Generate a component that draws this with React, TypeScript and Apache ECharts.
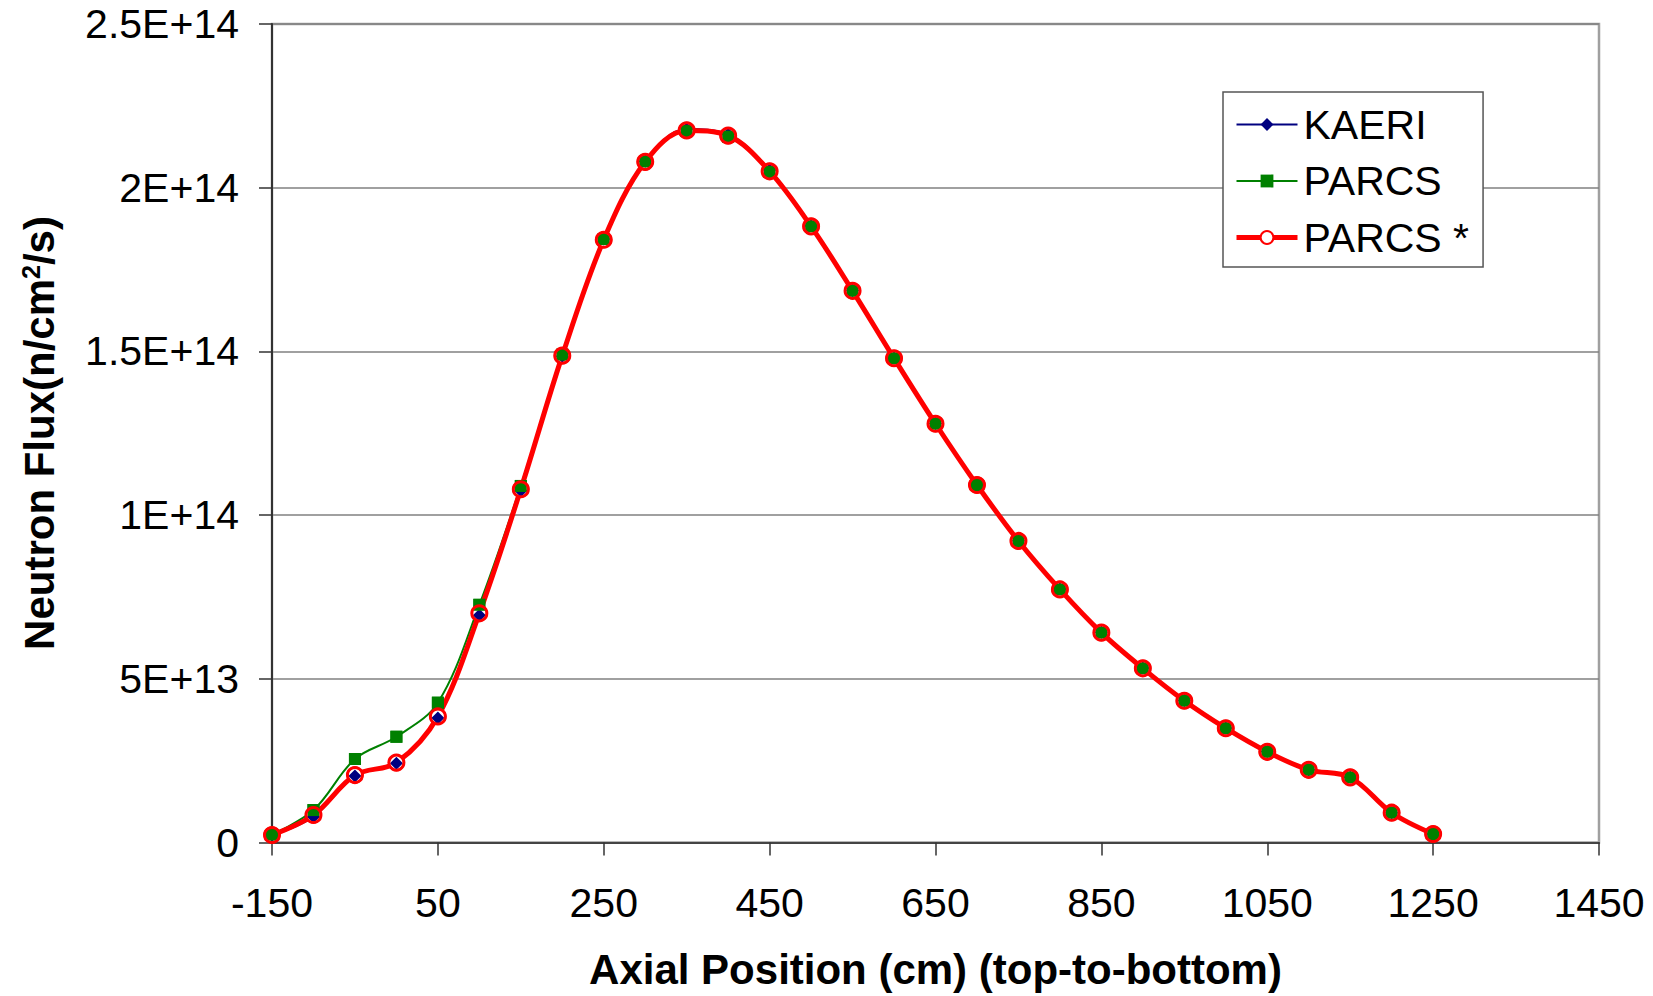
import React, { useEffect, useRef } from "react";
import * as echarts from "echarts";

const xPositions = [
  -150, -100, -50, 0, 50, 100, 150, 200, 250, 300, 350, 400, 450, 500, 550,
  600, 650, 700, 750, 800, 850, 900, 950, 1000, 1050, 1100, 1150, 1200, 1250,
];

const kaeri = [
  2.2e12, 7.9e12, 20.3e12, 24.2e12, 38.0e12, 69.4e12, 107.4e12, 148.5e12,
  184.3e12, 208.1e12, 217.9e12, 216.3e12, 205.4e12, 188.4e12, 168.6e12,
  148.0e12, 128.0e12, 109.3e12, 92.2e12, 77.4e12, 64.2e12, 53.3e12, 43.4e12,
  35.0e12, 27.8e12, 22.2e12, 19.9e12, 9.1e12, 2.6e12,
];

const parcs = [
  2.4e12, 9.9e12, 25.5e12, 32.3e12, 42.7e12, 72.6e12, 108.9e12, 149.0e12,
  184.3e12, 208.0e12, 217.3e12, 215.6e12, 204.8e12, 188.2e12, 168.5e12,
  147.9e12, 127.9e12, 109.2e12, 92.1e12, 77.3e12, 64.1e12, 53.2e12, 43.3e12,
  34.9e12, 27.7e12, 22.2e12, 19.9e12, 9.1e12, 2.6e12,
];

const parcsStar = [
  2.3e12, 8.4e12, 20.6e12, 24.4e12, 38.5e12, 70.0e12, 107.9e12, 148.7e12,
  184.1e12, 207.9e12, 217.5e12, 215.9e12, 205.0e12, 188.2e12, 168.5e12,
  147.9e12, 127.9e12, 109.2e12, 92.1e12, 77.3e12, 64.1e12, 53.2e12, 43.3e12,
  34.9e12, 27.7e12, 22.2e12, 19.9e12, 9.1e12, 2.6e12,
];

const xTicks = [-150, 50, 250, 450, 650, 850, 1050, 1250, 1450];
const yTickLabels = ["0", "5E+13", "1E+14", "1.5E+14", "2E+14", "2.5E+14"];

const seriesNames = ["KAERI", "PARCS", "PARCS *"];
const yTitle = "{a|Neutron Flux(n/cm}{sup|2}{a|/s)}";

const FONT = "'Liberation Sans', Arial, Helvetica, sans-serif";

export default function App() {
  const ref = useRef<HTMLDivElement>(null);

  useEffect(() => {
    if (!ref.current) return;
    const chart = echarts.init(ref.current, null, { renderer: "svg" });
    const pair = (ys: number[]) => xPositions.map((x, i) => [x, ys[i]]);

    const navy = "#000080";
    const green = "#008000";
    const red = "#ff0000";

    chart.setOption({
      animation: false,
      backgroundColor: "#ffffff",
      textStyle: { fontFamily: FONT },
      grid: {
        left: 272,
        top: 24,
        width: 1327,
        height: 818.5,
        show: true,
        outerBoundsMode: "none",
        containLabel: false,
        borderColor: "#a0a0a0",
        borderWidth: 2.5,
        backgroundColor: "transparent",
      },
      graphic: [
        {
          type: "text",
          x: 39,
          y: 433,
          rotation: Math.PI / 2,
          silent: true,
          style: {
            text: yTitle,
            align: "center",
            verticalAlign: "middle",
            fill: "#000000",
            fontFamily: FONT,
            fontSize: 42,
            fontWeight: "bold",
            rich: {
              a: {
                fontFamily: FONT,
                fontSize: 42,
                fontWeight: "bold",
                lineHeight: 42,
                verticalAlign: "bottom",
                fill: "#000000",
              },
              sup: {
                fontFamily: FONT,
                fontSize: 25,
                fontWeight: "bold",
                lineHeight: 25,
                padding: [0, 0, 32, 0],
                verticalAlign: "top",
                fill: "#000000",
              },
            },
          },
        },
      ],
      legend: {
        orient: "vertical",
        left: 1223,
        top: 92,
        padding: [12, 14, 9, 11],
        itemGap: 15.5,
        itemWidth: 61,
        itemHeight: 16,
        backgroundColor: "#ffffff",
        borderColor: "#555555",
        borderWidth: 1.5,
        borderRadius: 0,
        textStyle: {
          fontFamily: FONT,
          fontSize: 41,
          lineHeight: 40,
          color: "#000000",
          padding: [0, 0, 0, 1],
        },
        data: [
          { name: seriesNames[0], lineStyle: { width: 2 } },
          { name: seriesNames[1], lineStyle: { width: 2 } },
          { name: seriesNames[2], lineStyle: { width: 5 } },
        ],
      },
      xAxis: {
        type: "value",
        min: -150,
        max: 1450,
        name: "Axial Position (cm) (top-to-bottom)",
        nameLocation: "middle",
        nameGap: 106,
        nameTextStyle: {
          fontFamily: FONT,
          fontSize: 42,
          fontWeight: "bold",
          color: "#000000",
        },
        axisLine: { show: true, onZero: false, lineStyle: { color: "#444444", width: 2 } },
        axisTick: {
          show: true,
          length: 13,
          customValues: xTicks,
          lineStyle: { color: "#333333", width: 1.5 },
        },
        axisLabel: {
          customValues: xTicks,
          margin: 40,
          fontFamily: FONT,
          fontSize: 41,
          color: "#000000",
          formatter: (v: number) => String(v),
        },
        splitLine: { show: false },
      },
      yAxis: {
        type: "value",
        min: 0,
        max: 2.5e14,
        interval: 5e13,
        axisLine: { show: true, onZero: false, lineStyle: { color: "#333333", width: 2 } },
        axisTick: { show: true, length: 13, lineStyle: { color: "#333333", width: 1.5 } },
        axisLabel: {
          margin: 33,
          fontFamily: FONT,
          fontSize: 41,
          color: "#000000",
          formatter: (v: number) => yTickLabels[Math.round(v / 5e13)] ?? "",
        },
        splitLine: { show: true, lineStyle: { color: "#808080", width: 1.5 } },
      },
      series: [
        {
          name: seriesNames[0],
          type: "line",
          data: pair(kaeri),
          smooth: 0.35,
          symbol: "diamond",
          symbolSize: 13,
          lineStyle: { color: navy, width: 2 },
          itemStyle: { color: navy },
          z: 2,
        },
        {
          name: seriesNames[1],
          type: "line",
          data: pair(parcs),
          smooth: 0.35,
          symbol: "rect",
          symbolSize: 12,
          lineStyle: { color: green, width: 2 },
          itemStyle: { color: green },
          z: 2,
        },
        {
          name: seriesNames[2],
          type: "line",
          data: pair(parcsStar),
          smooth: 0.35,
          symbol: "emptyCircle",
          symbolSize: 15,
          lineStyle: { color: red, width: 5 },
          itemStyle: { color: red, borderWidth: 3 },
          z: 2,
        },
        {
          name: seriesNames[0],
          type: "scatter",
          data: pair(kaeri),
          symbol: "diamond",
          symbolSize: 13,
          itemStyle: { color: navy, opacity: 1 },
          silent: true,
          z: 3,
        },
        {
          name: seriesNames[1],
          type: "scatter",
          data: pair(parcs),
          symbol: "rect",
          symbolSize: 12,
          itemStyle: { color: green, opacity: 1 },
          silent: true,
          z: 3,
        },
        {
          name: seriesNames[2],
          type: "scatter",
          data: pair(parcsStar),
          symbol: "circle",
          symbolSize: 15,
          itemStyle: { color: "transparent", borderColor: red, borderWidth: 3, opacity: 1 },
          silent: true,
          z: 3,
        },
      ],
    });

    return () => chart.dispose();
  }, []);

  return (
    <div
      ref={ref}
      style={{ position: "fixed", left: 0, top: 0, width: 1653, height: 996, background: "#fff" }}
    />
  );
}
